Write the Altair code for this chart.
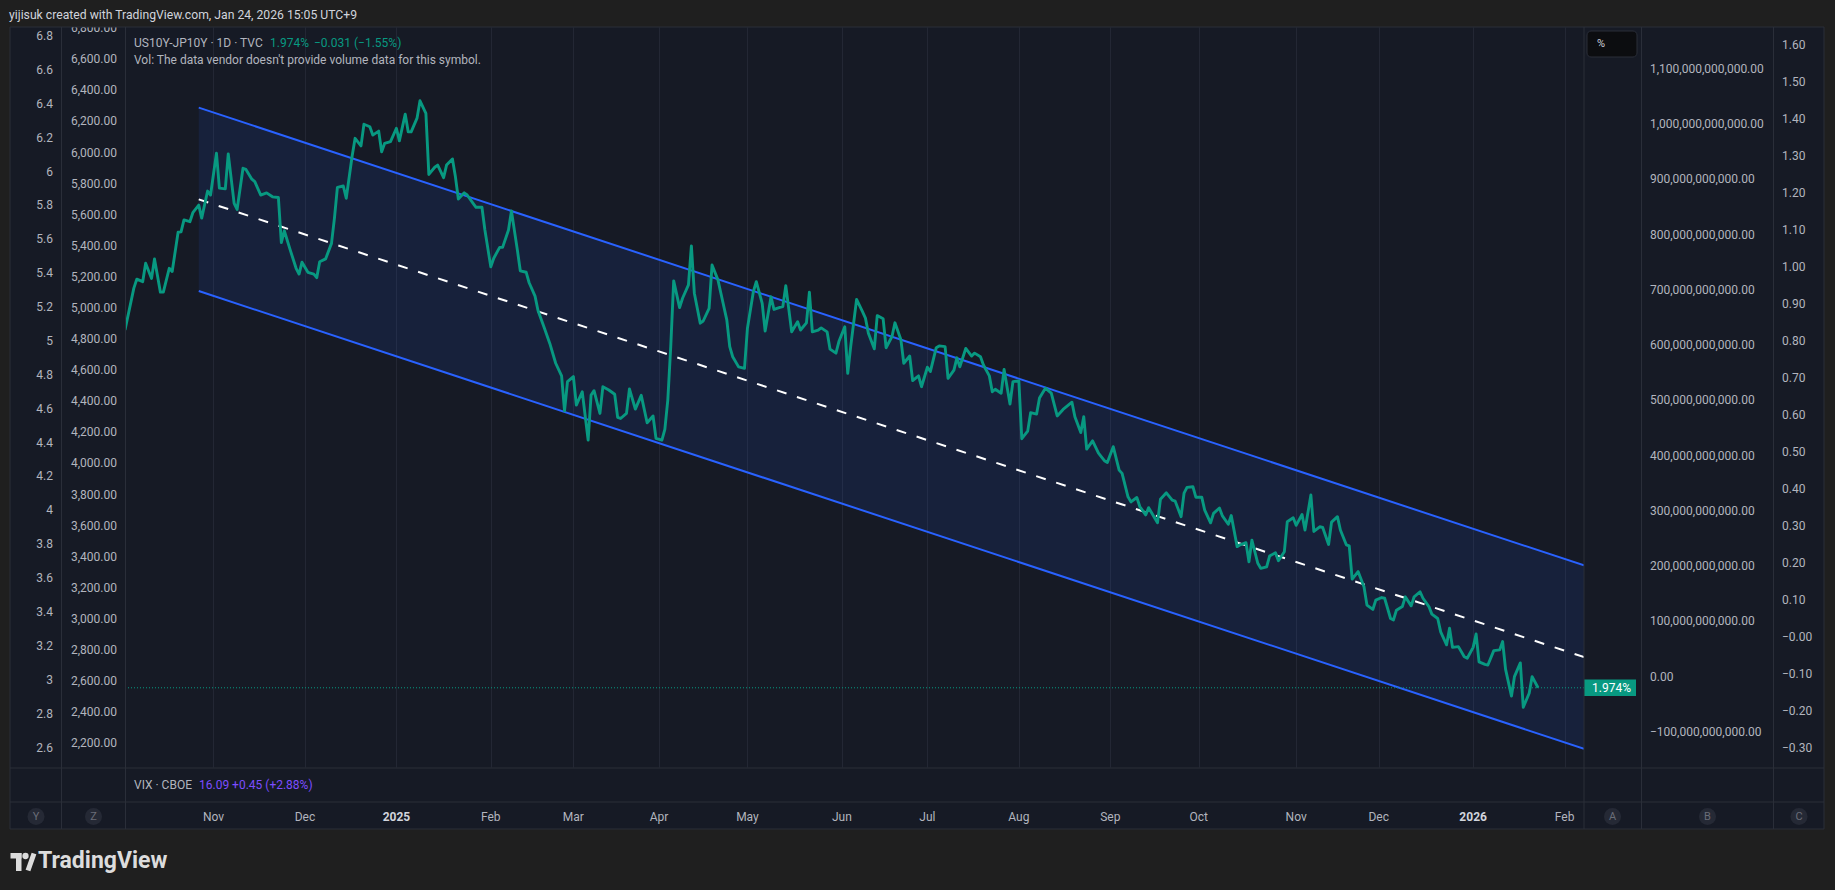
import altair as alt
import pandas as pd

# ---------------- data ----------------
BASE_DATE = "2024-11-01"          # spread_day counts calendar days from this date

spread_day = [
    -30, -27, -26, -24, -23, -21, -20, -18, -17, -15, -14, -12, -11, -10, -8, -7, -5, -4, -2, -1,
    1, 2, 4, 5, 7, 8, 10, 11, 13, 14, 16, 18, 20, 22, 23, 24, 26, 28, 29, 30,
    32, 34, 35, 36, 38, 40, 41, 42, 44, 45, 47, 48, 50, 51, 53, 54, 56, 57, 58, 60,
    62, 63, 65, 66, 67, 69, 70, 72, 73, 75, 76, 78, 79, 81, 82, 83, 85, 86, 88, 89,
    91, 92, 94, 95, 97, 98, 100, 101, 103, 104, 106, 107, 109, 110, 112, 114, 116, 118, 119, 120,
    122, 123, 125, 127, 128, 129, 131, 132, 134, 136, 137, 138, 140, 141, 143, 145, 147, 149, 150, 152,
    153, 154, 155, 156, 158, 159, 161, 162, 163, 165, 166, 168, 169, 171, 172, 174, 175, 176, 178, 180,
    181, 183, 184, 186, 187, 189, 190, 192, 193, 194, 196, 198, 199, 201, 202, 203, 205, 206, 208, 209,
    211, 212, 214, 215, 216, 218, 220, 221, 222, 224, 225, 227, 228, 230, 231, 233, 234, 236, 237, 239,
    240, 242, 243, 245, 246, 248, 249, 251, 252, 253, 255, 257, 258, 260, 261, 263, 264, 265, 267, 268,
    270, 271, 273, 274, 276, 277, 279, 280, 282, 284, 286, 288, 291, 292, 294, 295, 296, 298, 300, 302,
    303, 305, 307, 308, 310, 311, 313, 314, 316, 317, 319, 320, 321, 323, 325, 326, 328, 329, 330, 332,
    333, 335, 336, 338, 339, 341, 342, 344, 345, 347, 348, 350, 351, 352, 354, 355, 357, 358, 360, 361,
    363, 364, 366, 367, 369, 370, 372, 373, 375, 376, 378, 379, 381, 382, 384, 385, 386, 388, 390, 391,
    393, 394, 396, 397, 399, 400, 401, 403, 404, 406, 407, 409, 410, 412, 413, 415, 416, 418, 419, 420,
    422, 424, 425, 427, 428, 429, 431, 432, 434, 436, 437, 438, 440, 441, 443, 444, 446, 447, 449,
]
spread_pct = [
    2.965, 3.081, 3.106, 3.099, 3.150, 3.108, 3.162, 3.070, 3.070, 3.136, 3.127, 3.236, 3.237, 3.270, 3.265, 3.290, 3.311, 3.275, 3.350, 3.339,
    3.455, 3.358, 3.356, 3.453, 3.316, 3.299, 3.413, 3.410, 3.383, 3.376, 3.339, 3.345, 3.334, 3.332, 3.207, 3.240, 3.187, 3.136, 3.120, 3.153,
    3.125, 3.120, 3.110, 3.154, 3.162, 3.205, 3.275, 3.360, 3.364, 3.330, 3.447, 3.496, 3.475, 3.535, 3.528, 3.505, 3.516, 3.459, 3.482, 3.487,
    3.524, 3.489, 3.563, 3.514, 3.514, 3.552, 3.600, 3.565, 3.396, 3.416, 3.422, 3.387, 3.422, 3.439, 3.390, 3.328, 3.345, 3.339, 3.316, 3.305,
    3.305, 3.242, 3.140, 3.164, 3.194, 3.194, 3.242, 3.295, 3.187, 3.129, 3.125, 3.096, 3.059, 3.019, 2.974, 2.928, 2.873, 2.838, 2.741, 2.822,
    2.836, 2.757, 2.794, 2.660, 2.785, 2.797, 2.734, 2.808, 2.799, 2.787, 2.723, 2.720, 2.734, 2.802, 2.746, 2.784, 2.708, 2.727, 2.665, 2.660,
    2.690, 2.771, 2.919, 3.101, 3.027, 3.053, 3.090, 3.198, 3.067, 2.984, 2.990, 3.025, 3.145, 3.104, 3.067, 2.993, 2.919, 2.891, 2.863, 2.859,
    2.970, 3.071, 3.099, 3.039, 2.962, 3.057, 3.022, 3.028, 3.030, 3.088, 2.960, 2.988, 2.965, 2.985, 3.070, 2.960, 2.965, 2.971, 2.960, 2.912,
    2.901, 2.933, 2.974, 2.845, 2.919, 3.050, 3.016, 2.998, 2.956, 2.913, 3.005, 2.996, 2.916, 2.947, 2.985, 2.939, 2.873, 2.893, 2.825, 2.838,
    2.808, 2.862, 2.850, 2.916, 2.921, 2.919, 2.831, 2.854, 2.888, 2.863, 2.914, 2.893, 2.901, 2.891, 2.868, 2.838, 2.794, 2.801, 2.790, 2.856,
    2.760, 2.822, 2.824, 2.664, 2.685, 2.736, 2.732, 2.777, 2.804, 2.790, 2.727, 2.745, 2.765, 2.725, 2.681, 2.725, 2.635, 2.658, 2.624, 2.603,
    2.598, 2.642, 2.577, 2.568, 2.503, 2.489, 2.501, 2.476, 2.453, 2.473, 2.445, 2.431, 2.496, 2.514, 2.494, 2.491, 2.448, 2.513, 2.529, 2.531,
    2.502, 2.502, 2.466, 2.431, 2.457, 2.472, 2.450, 2.427, 2.451, 2.365, 2.370, 2.376, 2.323, 2.383, 2.319, 2.305, 2.309, 2.339, 2.348, 2.326,
    2.351, 2.434, 2.445, 2.424, 2.454, 2.411, 2.508, 2.407, 2.420, 2.418, 2.371, 2.433, 2.448, 2.411, 2.370, 2.367, 2.275, 2.296, 2.254, 2.203,
    2.191, 2.217, 2.224, 2.222, 2.166, 2.162, 2.189, 2.199, 2.226, 2.201, 2.226, 2.240, 2.222, 2.199, 2.178, 2.166, 2.129, 2.093, 2.139, 2.086,
    2.088, 2.060, 2.056, 2.086, 2.123, 2.046, 2.039, 2.037, 2.077, 2.079, 2.102, 2.025, 1.951, 2.005, 2.043, 1.920, 1.959, 2.005, 1.974,
]
assert len(spread_day) == len(spread_pct)

last_price = 1.974

# regression trend channel (start day / right edge of view)
channel_day = [-5, 464.6]
channel_mid = [3.327, 2.059]
channel_upper = [3.581, 2.313]
channel_lower = [3.073, 1.805]

month_starts = ["2024-11-01", "2024-12-02", "2025-01-02", "2025-02-03", "2025-03-03", "2025-04-01",
                "2025-05-01", "2025-06-02", "2025-07-01", "2025-08-01", "2025-09-01", "2025-10-01",
                "2025-11-03", "2025-12-01", "2026-01-02", "2026-02-02"]
month_labels = ["Nov", "Dec", "2025", "Feb", "Mar", "Apr", "May", "Jun", "Jul", "Aug", "Sep", "Oct",
                "Nov", "Dec", "2026", "Feb"]
year_labels = ["2025", "2026"]

pct_ticks = [1.8, 1.9, 2.0, 2.1, 2.2, 2.3, 2.4, 2.5, 2.6, 2.7, 2.8, 2.9, 3.0, 3.1, 3.2, 3.3, 3.4, 3.5, 3.6, 3.7]
y_ticks = [6.8, 6.6, 6.4, 6.2, 6.0, 5.8, 5.6, 5.4, 5.2, 5.0, 4.8, 4.6, 4.4, 4.2, 4.0, 3.8, 3.6, 3.4, 3.2, 3.0, 2.8, 2.6]
z_ticks = [6800, 6600, 6400, 6200, 6000, 5800, 5600, 5400, 5200, 5000, 4800, 4600, 4400, 4200, 4000,
           3800, 3600, 3400, 3200, 3000, 2800, 2600, 2400, 2200]
b_ticks_bn = [1100, 1000, 900, 800, 700, 600, 500, 400, 300, 200, 100, 0, -100]
c_ticks = [1.6, 1.5, 1.4, 1.3, 1.2, 1.1, 1.0, 0.9, 0.8, 0.7, 0.6, 0.5, 0.4, 0.3, 0.2, 0.1, 0.0, -0.1, -0.2, -0.3]
c_labels = ["1.60", "1.50", "1.40", "1.30", "1.20", "1.10", "1.00", "0.90", "0.80", "0.70", "0.60", "0.50",
            "0.40", "0.30", "0.20", "0.10", "\u22120.00", "\u22120.10", "\u22120.20", "\u22120.30"]

# scale domains of the visible view
X_DOMAIN = [-29.66, 464.58]
PCT_DOMAIN = [1.7546, 3.8044]
Y_DOMAIN = [2.485, 6.853]
Z_DOMAIN = [2047.4, 6807.8]
B_DOMAIN = [-163.8, 1176.0]
C_DOMAIN = [-0.3514, 1.6486]

# ---------------- style ----------------
FONT = "Roboto"
BG = "#161a25"
OUTER = "#1f1f1f"
GRID = "#232734"
SEP = "#2a2e39"
LABEL = "#b2b5be"
GREEN = "#089981"
BLUE = "#2962ff"

W, H = 1458, 740
LEFT, TOP = 126, 27
PAD = {"left": LEFT, "top": TOP, "right": 1835 - LEFT - W, "bottom": 890 - TOP - H}


def px(x):
    return x - LEFT


def py(y):
    return y - TOP


one = pd.DataFrame({"k": [0]})


def rect(x0, y0, x1, y1, **kw):
    return alt.Chart(one).mark_rect(**kw).encode(
        x=alt.value(px(x0)), x2=alt.value(px(x1)), y=alt.value(py(y0)), y2=alt.value(py(y1)))


def rule(x0, y0, x1, y1, **kw):
    return alt.Chart(one).mark_rule(**kw).encode(
        x=alt.value(px(x0)), x2=alt.value(px(x1)), y=alt.value(py(y0)), y2=alt.value(py(y1)))


def text(x, y, s, size=12, color=LABEL, align="left", weight="normal"):
    return alt.Chart(one).mark_text(text=s, fontSize=size, color=color, align=align,
                                    baseline="middle", font=FONT, fontWeight=weight).encode(
        x=alt.value(px(x)), y=alt.value(py(y)))


def fmt_minus(s):
    return s.replace("-", "\u2212")


xs = alt.Scale(domain=X_DOMAIN, nice=False, zero=False)
ys = alt.Scale(domain=PCT_DOMAIN, nice=False, zero=False)

base_ts = pd.Timestamp(BASE_DATE)
month_days = [int((pd.Timestamp(m) - base_ts).days) for m in month_starts]

# ---------------- main pane ----------------
df = pd.DataFrame({"d": spread_day, "v": spread_pct})
ch = pd.DataFrame({"d": channel_day, "mid": channel_mid, "up": channel_upper, "lo": channel_lower})
lp = pd.DataFrame({"v": [last_price], "t": [f"{last_price:.3f}%"]})

line = alt.Chart(df).mark_line(color=GREEN, strokeWidth=2.9, clip=True, strokeJoin="round").encode(
    x=alt.X("d:Q", scale=xs, title="",
            axis=alt.Axis(values=month_days, grid=True, gridColor=GRID, gridWidth=1,
                          labels=False, ticks=False, domain=False)),
    y=alt.Y("v:Q", scale=ys, title="",
            axis=alt.Axis(orient="right", values=pct_ticks, grid=True, gridColor=GRID, gridWidth=1,
                          ticks=False, domain=False, labelExpr="format(datum.value, '.3f') + '%'",
                          labelAlign="left", labelPadding=8, labelColor=LABEL, labelFont=FONT,
                          labelFontSize=12, labelFlush=False, labelOverlap=False, labelBound=False)),
)

fill = alt.Chart(ch).mark_area(color=BLUE, opacity=0.1, clip=True).encode(
    x=alt.X("d:Q", scale=xs), y=alt.Y("lo:Q", scale=ys, axis=None), y2="up:Q")
up_line = alt.Chart(ch).mark_line(color=BLUE, strokeWidth=2, clip=True).encode(
    x=alt.X("d:Q", scale=xs), y=alt.Y("up:Q", scale=ys, axis=None))
lo_line = alt.Chart(ch).mark_line(color=BLUE, strokeWidth=2, clip=True).encode(
    x=alt.X("d:Q", scale=xs), y=alt.Y("lo:Q", scale=ys, axis=None))
mid_line = alt.Chart(ch).mark_line(color="#ffffff", strokeWidth=2, strokeDash=[10, 11], clip=True).encode(
    x=alt.X("d:Q", scale=xs), y=alt.Y("mid:Q", scale=ys, axis=None))

price_rule = alt.Chart(lp).mark_rule(color=GREEN, strokeWidth=1, strokeDash=[1, 2]).encode(
    y=alt.Y("v:Q", scale=ys, axis=None))
box_path = "M-1,-0.32L1,-0.32L1,0.32L-1,0.32Z"
price_box = alt.Chart(lp).mark_point(shape=box_path, filled=True, color=GREEN, opacity=1,
                                     size=52 * 52, strokeWidth=0).encode(
    x=alt.value(px(1610)), y=alt.Y("v:Q", scale=ys, axis=None))
price_txt = alt.Chart(lp).mark_text(color="#ffffff", fontSize=12, font=FONT, align="left",
                                    baseline="middle").encode(
    x=alt.value(px(1592)), y=alt.Y("v:Q", scale=ys, axis=None), text="t:N")

main = alt.layer(fill, up_line, lo_line, mid_line, line, price_rule, price_box, price_txt)

# ---------------- time axis labels ----------------
mdf = pd.DataFrame({"d": month_days, "t": month_labels})
mdf_norm = mdf[~mdf["t"].isin(year_labels)]
mdf_bold = mdf[mdf["t"].isin(year_labels)]
m_norm = alt.Chart(mdf_norm).mark_text(fontSize=12, font=FONT, color=LABEL, baseline="middle").encode(
    x=alt.X("d:Q", scale=xs), y=alt.value(py(817)), text="t:N")
m_bold = alt.Chart(mdf_bold).mark_text(fontSize=12, font=FONT, color="#d1d4dc", fontWeight="bold",
                                       baseline="middle").encode(
    x=alt.X("d:Q", scale=xs), y=alt.value(py(817)), text="t:N")


# ---------------- other price scales (no series shown) ----------------
def axis_text(values, labels, domain, x, align):
    d = pd.DataFrame({"v": values, "t": labels})
    return alt.Chart(d).mark_text(align=align, baseline="middle", color=LABEL, fontSize=12, font=FONT).encode(
        x=alt.value(px(x)),
        y=alt.Y("v:Q", scale=alt.Scale(domain=domain, nice=False, zero=False), axis=None),
        text="t:N")


ax_y = axis_text(y_ticks, [f"{v:g}" for v in y_ticks], Y_DOMAIN, 53, "right")
ax_z = axis_text(z_ticks, [f"{v:,.2f}" for v in z_ticks], Z_DOMAIN, 117, "right")
ax_b = axis_text(b_ticks_bn, [fmt_minus(f"{v * 1e9:,.2f}") for v in b_ticks_bn], B_DOMAIN, 1650, "left")
ax_c = axis_text(c_ticks, c_labels, C_DOMAIN, 1782, "left")

# ---------------- frame / decorations ----------------
deco = [
    rect(0, 0, 1835, 27, color=OUTER),
    rect(0, 0, 10, 890, color=OUTER),
    rect(1824, 0, 1835, 890, color=OUTER),
    rect(0, 829, 1835, 890, color=OUTER),
    rect(10, 27, 1824, 829, filled=False, stroke=SEP, strokeWidth=1),
    rule(61.5, 27, 61.5, 829, color=SEP),
    rule(125.5, 27, 125.5, 829, color=SEP),
    rule(1584, 27, 1584, 829, color=SEP),
    rule(1641.5, 27, 1641.5, 829, color=SEP),
    rule(1773.5, 27, 1773.5, 829, color=SEP),
    rule(10, 768, 1824, 768, color=SEP),
    rule(10, 802, 1824, 802, color=SEP),
    rect(1587, 31, 1637, 57, color="#0c0d10", stroke=SEP, strokeWidth=1, cornerRadius=4),
    text(1597, 44, "%", size=11, color="#d1d4dc"),
]

# bottom buttons
buttons = []
for lab, cx in [("Y", 36), ("Z", 93.5), ("A", 1612.5), ("B", 1707.5), ("C", 1799)]:
    buttons.append(alt.Chart(one).mark_point(shape="circle", filled=True, color="#252935", size=290,
                                             opacity=1).encode(x=alt.value(px(cx)), y=alt.value(py(816.5))))
    buttons.append(text(cx, 816.5, lab, size=11, color="#6a6d78", align="center"))

texts = [
    text(9, 14.5, "yijisuk created with TradingView.com, Jan 24, 2026 15:05 UTC+9", size=12.2, color="#d1d4dc"),
    text(134, 42.5, "US10Y-JP10Y \u00b7 1D \u00b7 TVC", size=12, color=LABEL),
    text(270, 42.5, "1.974%", size=12, color=GREEN),
    text(314, 42.5, "\u22120.031 (\u22121.55%)", size=12, color=GREEN),
    text(134, 59.5, "Vol: The data vendor doesn't provide volume data for this symbol.", size=12, color=LABEL),
    text(134, 785, "VIX \u00b7 CBOE", size=12, color=LABEL),
    text(199, 785, "16.09  +0.45 (+2.88%)", size=12, color="#7c4dff"),
    # TradingView logo
    rect(10.5, 853, 21.5, 858.5, color="#dcdcdc"),
    rect(16, 853, 21.5, 871, color="#dcdcdc"),
    alt.Chart(one).mark_point(shape="circle", filled=True, color="#dcdcdc", size=40, opacity=1).encode(
        x=alt.value(px(25.5)), y=alt.value(py(856))),
    rule(34, 853.5, 28, 870.5, color="#dcdcdc", strokeWidth=5),
    text(38, 861, "TradingView", size=23, color="#dcdcdc", weight="bold"),
]

chart = alt.layer(
    main, m_norm, m_bold, ax_y, ax_z, ax_b, ax_c, *deco, *buttons, *texts
).resolve_scale(y="independent").properties(
    width=W, height=H, padding=PAD, autosize=alt.AutoSizeParams(type="none"), background=BG
).configure(font=FONT).configure_view(strokeWidth=0, stroke="transparent")

chart.save("out.html", embed_options={"renderer": "svg", "actions": False})
